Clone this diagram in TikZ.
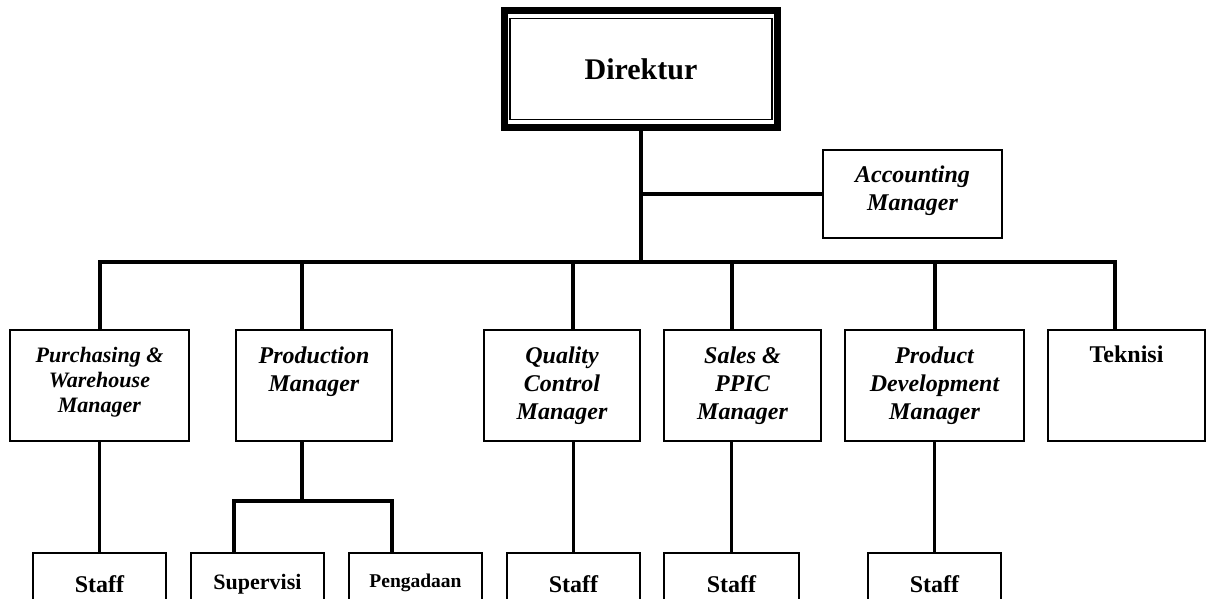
\documentclass[tikz,border=0pt]{standalone}
\usepackage{fontspec}
\setmainfont{Liberation Serif}
\usetikzlibrary{positioning}

\begin{document}
\begin{tikzpicture}[x=1pt, y=-1pt,
  box/.style={draw, line width=1.8pt, inner sep=0pt},
  mgr/.style={box, minimum height=111pt},
  stf/.style={box, minimum height=70pt},
  mtxt/.style={align=center, inner sep=0pt, font=\fontsize{24}{28}\selectfont\bfseries\itshape},
  stxt/.style={inner sep=0pt, font=\fontsize{24}{28}\selectfont\bfseries},
  link/.style={line width=3.2pt}]
  \clip (0,0) rectangle (1208,599);

  % direktur and accounting
  \node[draw, line width=7pt, minimum width=273pt, minimum height=117pt] (dir) at (641,69) {};
  \node[draw, line width=1.5pt, minimum width=262pt, minimum height=101pt] (dirin) at (dir.center) {};
  \node[inner sep=0pt, font=\fontsize{30}{36}\selectfont\bfseries] (dirt) at (dir.center) {Direktur};
  \node[box, minimum width=179pt, minimum height=88pt] (acc) at (912.5,194) {};
  \node[mtxt, yshift=3pt] (acct) at (acc.center) {Accounting\\Manager};

  % managers (base = last line)
  \node[mgr, minimum width=179pt] (pw) at (99.5,385.5) {};
  \node[mgr, minimum width=156pt] (pm) at (314,385.5) {};
  \node[mgr, minimum width=156pt] (qc) at (562,385.5) {};
  \node[mgr, minimum width=157pt] (sp) at (742.5,385.5) {};
  \node[mgr, minimum width=179pt] (pd) at (934.5,385.5) {};
  \node[mgr, minimum width=157pt] (tk) at (1126.5,385.5) {};
  \node[mtxt, anchor=base, font=\fontsize{22}{25}\selectfont\bfseries\itshape] (pwt) at ([yshift=-83pt]pw.north) {Purchasing \&\\Warehouse\\Manager};
  \node[mtxt, anchor=base] (pmt) at ([yshift=-62pt]pm.north) {Production\\Manager};
  \node[mtxt, anchor=base] (qct) at ([yshift=-90pt]qc.north) {Quality\\Control\\Manager};
  \node[mtxt, anchor=base] (spt) at ([yshift=-90pt]sp.north) {Sales \&\\PPIC\\Manager};
  \node[mtxt, anchor=base] (pdt) at ([yshift=-90pt]pd.north) {Product\\Development\\Manager};
  \node[stxt, anchor=base] (tkt) at ([yshift=-33pt]tk.north) {Teknisi};

  % staff row
  \node[stf, minimum width=133pt] (s1) at (99.5,588) {};
  \node[stf, minimum width=133pt] (sv) at (257.5,588) {};
  \node[stf, minimum width=133pt] (pg) at (415.5,588) {};
  \node[stf, minimum width=133pt] (s2) at (573.5,588) {};
  \node[stf, minimum width=135pt] (s3) at (731.5,588) {};
  \node[stf, minimum width=133pt] (s4) at (934.5,588) {};
  \node[stxt, anchor=base] (s1t) at ([yshift=-40pt]s1.north) {Staff};
  \node[stxt, anchor=base, font=\fontsize{22}{26}\selectfont\bfseries] (svt) at ([yshift=-37pt]sv.north) {Supervisi};
  \node[stxt, anchor=base, font=\fontsize{19.5}{24}\selectfont\bfseries] (pgt) at ([yshift=-35pt]pg.north) {Pengadaan};
  \node[stxt, anchor=base] (s2t) at ([yshift=-40pt]s2.north) {Staff};
  \node[stxt, anchor=base] (s3t) at ([yshift=-40pt]s3.north) {Staff};
  \node[stxt, anchor=base] (s4t) at ([yshift=-40pt]s4.north) {Staff};

  % connectors
  \coordinate (j-pw) at (100,262);
  \coordinate (j-pm) at (302,262);
  \coordinate (j-qc) at (573,262);
  \coordinate (j-sp) at (732,262);
  \coordinate (j-pd) at (935,262);
  \coordinate (j-tk) at (1115,262);
  \coordinate (subL) at (234,501);
  \coordinate (subR) at (392,501);
  \draw[link] (dir.south) -- (dir.south |- j-pw);
  \draw[link] (dir.south |- acc.west) -- (acc.west);
  \draw[link] (j-pw |- pw.north) -- (j-pw) -- (j-tk) -- (j-tk |- tk.north);
  \draw[link] (j-pm) -- (j-pm |- pm.north);
  \draw[link] (j-qc) -- (j-qc |- qc.north);
  \draw[link] (j-sp) -- (j-sp |- sp.north);
  \draw[link] (j-pd) -- (j-pd |- pd.north);
  \draw[link] (pw.south) -- (s1.north);
  \draw[link] (pm.south -| j-pm) -- (j-pm |- subL);
  \draw[link] (subL |- sv.north) -- (subL) -- (subR) -- (subR |- pg.north);
  \draw[link] (qc.south -| s2.north) -- (s2.north);
  \draw[link] (sp.south -| s3.north) -- (s3.north);
  \draw[link] (pd.south) -- (s4.north);
\end{tikzpicture}
\end{document}
